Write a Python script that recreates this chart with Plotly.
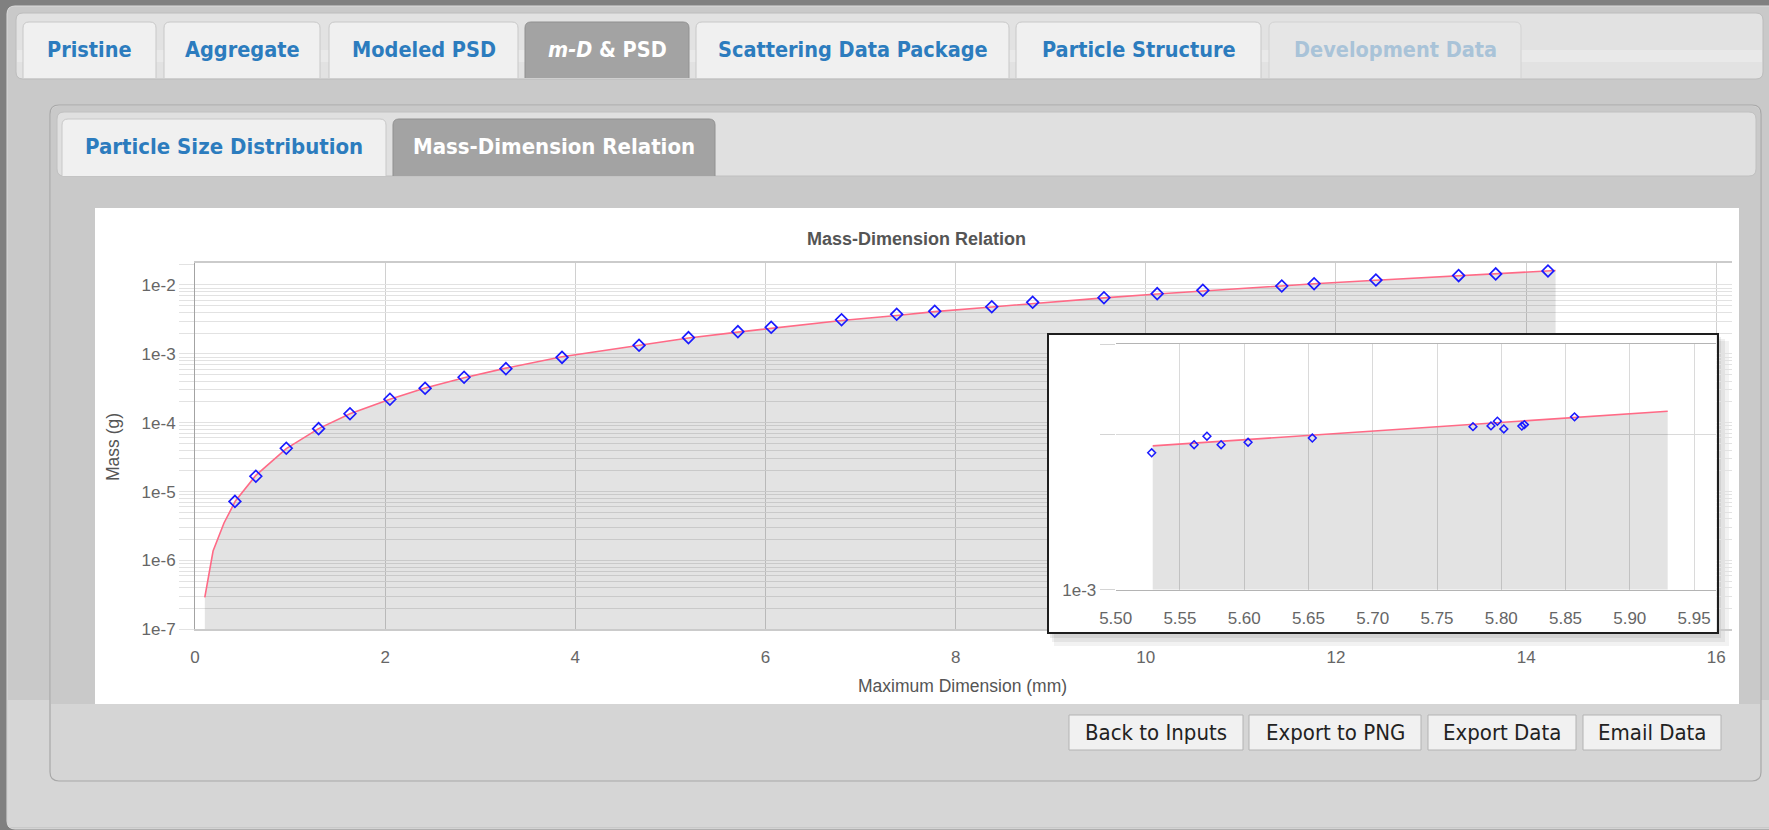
import plotly.graph_objects as go
import math

W, H = 1769, 830

# ---------------- data ----------------
main_dim_mm = [0.42, 0.64, 0.96, 1.30, 1.63, 2.05, 2.42, 2.83, 3.27, 3.86, 4.67, 5.19, 5.71, 6.06,
               6.80, 7.38, 7.78, 8.38, 8.81, 9.56, 10.12, 10.60, 11.43, 11.77, 12.42, 13.29, 13.68, 14.23]
main_mass_g = [7.2e-6, 1.67e-5, 4.26e-5, 8.2e-5, 1.35e-4, 2.19e-4, 3.16e-4, 4.57e-4, 6.1e-4, 8.9e-4,
               1.33e-3, 1.72e-3, 2.10e-3, 2.43e-3, 3.13e-3, 3.75e-3, 4.15e-3, 4.84e-3, 5.61e-3, 6.54e-3,
               7.48e-3, 8.38e-3, 9.67e-3, 1.045e-2, 1.18e-2, 1.37e-2, 1.45e-2, 1.60e-2]

fit_dim_mm = [0.103, 0.19, 0.305, 0.425, 0.64, 0.96, 1.30, 1.63, 2.05, 2.42, 2.83, 3.27, 3.86, 4.67,
              5.19, 5.71, 6.06, 6.80, 7.38, 7.78, 8.38, 8.81, 9.56, 10.12, 10.60, 11.43, 11.77, 12.42,
              13.29, 13.68, 14.31]
fit_mass_g = [2.9e-7, 1.37e-6, 3.5e-6, 7.3e-6, 1.72e-5, 4.2e-5, 8.2e-5, 1.35e-4, 2.2e-4, 3.2e-4,
              4.5e-4, 6.2e-4, 9.1e-4, 1.35e-3, 1.7e-3, 2.07e-3, 2.35e-3, 3.05e-3, 3.6e-3, 4.1e-3,
              4.8e-3, 5.4e-3, 6.5e-3, 7.4e-3, 8.2e-3, 9.7e-3, 1.04e-2, 1.17e-2, 1.37e-2, 1.46e-2, 1.62e-2]

inset_dim_mm = [5.528, 5.561, 5.571, 5.582, 5.603, 5.653, 5.778, 5.792, 5.797, 5.802, 5.816, 5.818, 5.857]
inset_mass_g = [1.846e-3, 1.914e-3, 1.988e-3, 1.914e-3, 1.935e-3, 1.972e-3, 2.075e-3, 2.082e-3,
                2.126e-3, 2.054e-3, 2.080e-3, 2.094e-3, 2.168e-3]
inset_fit_dim_mm = [5.5288, 5.9295]
inset_fit_mass_g = [1.904e-3, 2.223e-3]

main_x_ticks = [0, 2, 4, 6, 8, 10, 12, 14, 16]
main_decades = [-7, -6, -5, -4, -3, -2]
inset_x_ticks = [5.50, 5.55, 5.60, 5.65, 5.70, 5.75, 5.80, 5.85, 5.90, 5.95]
inset_x_labels = ["5.50", "5.55", "5.60", "5.65", "5.70", "5.75", "5.80", "5.85", "5.90", "5.95"]
inset_y_ticks = [1e-3, 2e-3, 3e-3]
inset_y_labels = ["1e-3", "", ""]

main_y_min = 1e-7
inset_y_min = 1e-3

tab_labels = ["Pristine", "Aggregate", "Modeled PSD", "<i>m-D</i> &amp; PSD",
              "Scattering Data Package", "Particle Structure", "Development Data"]
subtab_labels = ["Particle Size Distribution", "Mass-Dimension Relation"]
button_labels = ["Back to Inputs", "Export to PNG", "Export Data", "Email Data"]

title_text = "Mass-Dimension Relation"
x_title = "Maximum Dimension (mm)"
y_title = "Mass (g)"

# ---------------- layout geometry (pixels) ----------------
tab_boxes = [(23, 156), (164, 320), (329, 518), (525, 689), (696, 1009), (1016, 1261), (1269, 1521)]
active_tab, disabled_tab = 3, 6
subtab_boxes = [(62, 386), (393, 715)]
active_subtab = 1
button_boxes = [(1069, 1243), (1249, 1421), (1428, 1576), (1583, 1721)]

UI_FONT = "DejaVu Sans Condensed, Liberation Sans, Arial, sans-serif"
CH_FONT = "Liberation Sans, Arial, Helvetica, sans-serif"


def fx(x):
    return x / W


def fy(y):
    return 1 - y / H


shapes = []
annotations = []


def rect(x0, y0, x1, y1, fill, line=None, lw=1):
    shapes.append(dict(type="rect", xref="paper", yref="paper", x0=fx(x0), x1=fx(x1),
                       y0=fy(y1), y1=fy(y0), fillcolor=fill, layer="below",
                       line=dict(color=line if line else fill, width=lw if line else 0)))


def rrect(x0, y0, x1, y1, r, fill, line=None, lw=1, top_only=False):
    rx, ry = r / W, r / H
    X0, X1, Y0, Y1 = fx(x0), fx(x1), fy(y0), fy(y1)
    if top_only:
        path = (f"M{X0},{Y1} L{X0},{Y0 - ry} Q{X0},{Y0} {X0 + rx},{Y0} L{X1 - rx},{Y0} "
                f"Q{X1},{Y0} {X1},{Y0 - ry} L{X1},{Y1}")
    else:
        path = (f"M{X0 + rx},{Y0} L{X1 - rx},{Y0} Q{X1},{Y0} {X1},{Y0 - ry} L{X1},{Y1 + ry} "
                f"Q{X1},{Y1} {X1 - rx},{Y1} L{X0 + rx},{Y1} Q{X0},{Y1} {X0},{Y1 + ry} "
                f"L{X0},{Y0 - ry} Q{X0},{Y0} {X0 + rx},{Y0} Z")
    shapes.append(dict(type="path", xref="paper", yref="paper", path=path, fillcolor=fill,
                       layer="below",
                       line=dict(color=line if line else fill, width=lw if line else 0)))


def text(x, y, s, size, color, family=UI_FONT, angle=0, xanchor="center"):
    annotations.append(dict(x=fx(x), y=fy(y), xref="paper", yref="paper", text=s,
                            showarrow=False, xanchor=xanchor, yanchor="middle",
                            textangle=angle, font=dict(size=size, color=color, family=family)))


# page frame
rect(0, 0, W, H, "#808080")
rrect(7, 6, W + 10, H - 1, 8, "#c9c9c9", "#dcdcdc", 1)
rect(8, 700, W, H - 3, "#d6d6d6")

# top tab bar
rrect(16, 13, 1763, 79, 7, "#e2e2e2", "#bcbcbc", 1)
rect(17, 50, 1762, 62, "#e9e9e9")
for i, (a, b) in enumerate(tab_boxes):
    if i == active_tab:
        fill, ln, col = "#a3a3a3", "#909090", "#ffffff"
    elif i == disabled_tab:
        fill, ln, col = "#e6e6e6", "#d2d2d2", "#a9c3d8"
    else:
        fill, ln, col = "#f0f0f0", "#c8c8c8", "#2c7cbe"
    rrect(a, 22, b, 78, 6, fill, ln, 1, top_only=True)
    text((a + b) / 2, 49, f"<b>{tab_labels[i]}</b>", 21.5, col)

# inner panel
rrect(50, 105, 1761, 781, 9, "#d5d5d5", "#a8a8a8", 1.2)
rrect(51, 106, 1760, 704, 8, "#c9c9c9", None, 0, top_only=True)

# sub tab bar
rrect(57, 112, 1756, 176, 7, "#e0e0e0", "#c0c0c0", 1)
for i, (a, b) in enumerate(subtab_boxes):
    if i == active_subtab:
        fill, ln, col = "#a3a3a3", "#909090", "#ffffff"
    else:
        fill, ln, col = "#f0f0f0", "#c8c8c8", "#2c7cbe"
    rrect(a, 119, b, 176, 6, fill, ln, 1, top_only=True)
    text((a + b) / 2, 146, f"<b>{subtab_labels[i]}</b>", 22, col)

# chart white area
rect(95, 208, 1739, 704, "#ffffff")

# inset shadow
for (x0, y0, x1, y1, a) in [(1054, 341, 1729, 646, 0.05), (1052, 339, 1725, 642, 0.06),
                            (1050, 337, 1721, 638, 0.07)]:
    rect(x0, y0, x1, y1, f"rgba(0,0,0,{a})")

# buttons
for i, (a, b) in enumerate(button_boxes):
    rect(a, 715, b, 750, "#f1f1f1", "#b3b3b3", 1)
    text((a + b) / 2, 732.5, button_labels[i], 22, "#222222")

# chart texts
text(916, 239, f"<b>{title_text}</b>", 18, "#555555", CH_FONT)
text(962, 686, x_title, 17.5, "#555555", CH_FONT)
text(113, 447, y_title, 17.5, "#555555", CH_FONT, angle=-90)

# ---------------- traces ----------------
fig = go.Figure()

# main chart
fig.add_trace(go.Scatter(
    x=fit_dim_mm + [fit_dim_mm[-1], fit_dim_mm[0]],
    y=fit_mass_g + [main_y_min, main_y_min],
    mode="lines", fill="toself", fillcolor="rgba(0,0,0,0.11)",
    line=dict(width=0, color="rgba(0,0,0,0)"), hoverinfo="skip", xaxis="x", yaxis="y"))
fig.add_trace(go.Scatter(x=fit_dim_mm, y=fit_mass_g, mode="lines",
                         line=dict(color="#ff6a86", width=1.6), xaxis="x", yaxis="y"))
fig.add_trace(go.Scatter(x=main_dim_mm, y=main_mass_g, mode="markers",
                         marker=dict(symbol="diamond-open", size=9, color="#1a1aff",
                                     line=dict(width=1.7, color="#1a1aff")),
                         xaxis="x", yaxis="y"))

# inset backing box (white panel with black border)
fig.add_trace(go.Scatter(x=[0.5], y=[0.5], mode="markers", marker=dict(opacity=0),
                         hoverinfo="skip", xaxis="x2", yaxis="y2"))

# inset
fig.add_trace(go.Scatter(
    x=inset_fit_dim_mm + [inset_fit_dim_mm[-1], inset_fit_dim_mm[0]],
    y=inset_fit_mass_g + [inset_y_min, inset_y_min],
    mode="lines", fill="toself", fillcolor="rgba(0,0,0,0.11)",
    line=dict(width=0, color="rgba(0,0,0,0)"), hoverinfo="skip", xaxis="x3", yaxis="y3"))
fig.add_trace(go.Scatter(x=inset_fit_dim_mm, y=inset_fit_mass_g, mode="lines",
                         line=dict(color="#ff6a86", width=1.6), xaxis="x3", yaxis="y3"))
fig.add_trace(go.Scatter(x=inset_dim_mm, y=inset_mass_g, mode="markers",
                         marker=dict(symbol="diamond-open", size=6, color="#1a1aff",
                                     line=dict(width=1.5, color="#1a1aff")),
                         xaxis="x3", yaxis="y3"))

main_y_tickvals = [k * 10.0 ** e for e in main_decades for k in range(1, 10)]
main_y_ticktext = [f"1e{e}" if k == 1 else "" for e in main_decades for k in range(1, 10)]

tickfont = dict(size=17, color="#666666", family=CH_FONT)

fig.update_layout(
    width=W, height=H, autosize=False,
    margin=dict(l=0, r=0, t=0, b=0, pad=0, autoexpand=False),
    paper_bgcolor="#c9c9c9", plot_bgcolor="#ffffff",
    showlegend=False, hovermode=False,
    shapes=shapes, annotations=annotations,
    xaxis=dict(domain=[fx(195), fx(1731.5)], range=[0, 16.16], anchor="y", automargin=False,
               tickmode="array", tickvals=main_x_ticks, ticktext=[str(v) for v in main_x_ticks],
               showgrid=True, gridcolor="#d0d0d0", gridwidth=1, zeroline=False,
               showline=True, linecolor="#cbcbcb", linewidth=1.5, mirror=True,
               ticks="outside", ticklen=12, tickcolor="rgba(0,0,0,0)", tickfont=tickfont),
    yaxis=dict(domain=[fy(629.3), fy(263.3)], type="log", range=[-7, -1.685], anchor="x",
               automargin=False,
               tickmode="array", tickvals=main_y_tickvals, ticktext=main_y_ticktext,
               showgrid=True, gridcolor="#e2e2e2", gridwidth=1, zeroline=False,
               showline=True, linecolor="#a3a3a3", linewidth=1,
               ticks="outside", ticklen=15, tickcolor="#e2e2e2", tickwidth=1, tickfont=tickfont),
    xaxis2=dict(domain=[fx(1048.5), fx(1716.5)], range=[0, 1], anchor="y2", automargin=False,
                showgrid=False, zeroline=False, showticklabels=False, ticks="",
                showline=True, mirror=True, linecolor="#1e1e1e", linewidth=2),
    yaxis2=dict(domain=[fy(632), fy(334.5)], range=[0, 1], anchor="x2", automargin=False,
                showgrid=False, zeroline=False, showticklabels=False, ticks="",
                showline=True, mirror=True, linecolor="#1e1e1e", linewidth=2),
    xaxis3=dict(domain=[fx(1115.7), fx(1715.5)], range=[5.50, 5.9667], anchor="y3",
                automargin=False,
                tickmode="array", tickvals=inset_x_ticks, ticktext=inset_x_labels,
                showgrid=True, gridcolor="#dadada", gridwidth=1, zeroline=False,
                showline=True, mirror=True, linecolor="#b4b4b4", linewidth=1,
                ticks="outside", ticklen=13, tickcolor="rgba(0,0,0,0)", tickfont=tickfont),
    yaxis3=dict(domain=[fy(589.7), fy(344.3)], type="log",
                range=[math.log10(inset_y_ticks[0]), math.log10(inset_y_ticks[-1])], anchor="x3",
                automargin=False,
                tickmode="array", tickvals=inset_y_ticks, ticktext=inset_y_labels,
                showgrid=True, gridcolor="#dadada", gridwidth=1, zeroline=False,
                showline=False, ticks="outside", ticklen=15, tickcolor="#d4d4d4",
                tickfont=tickfont),
)

fig.write_html("out.html")
